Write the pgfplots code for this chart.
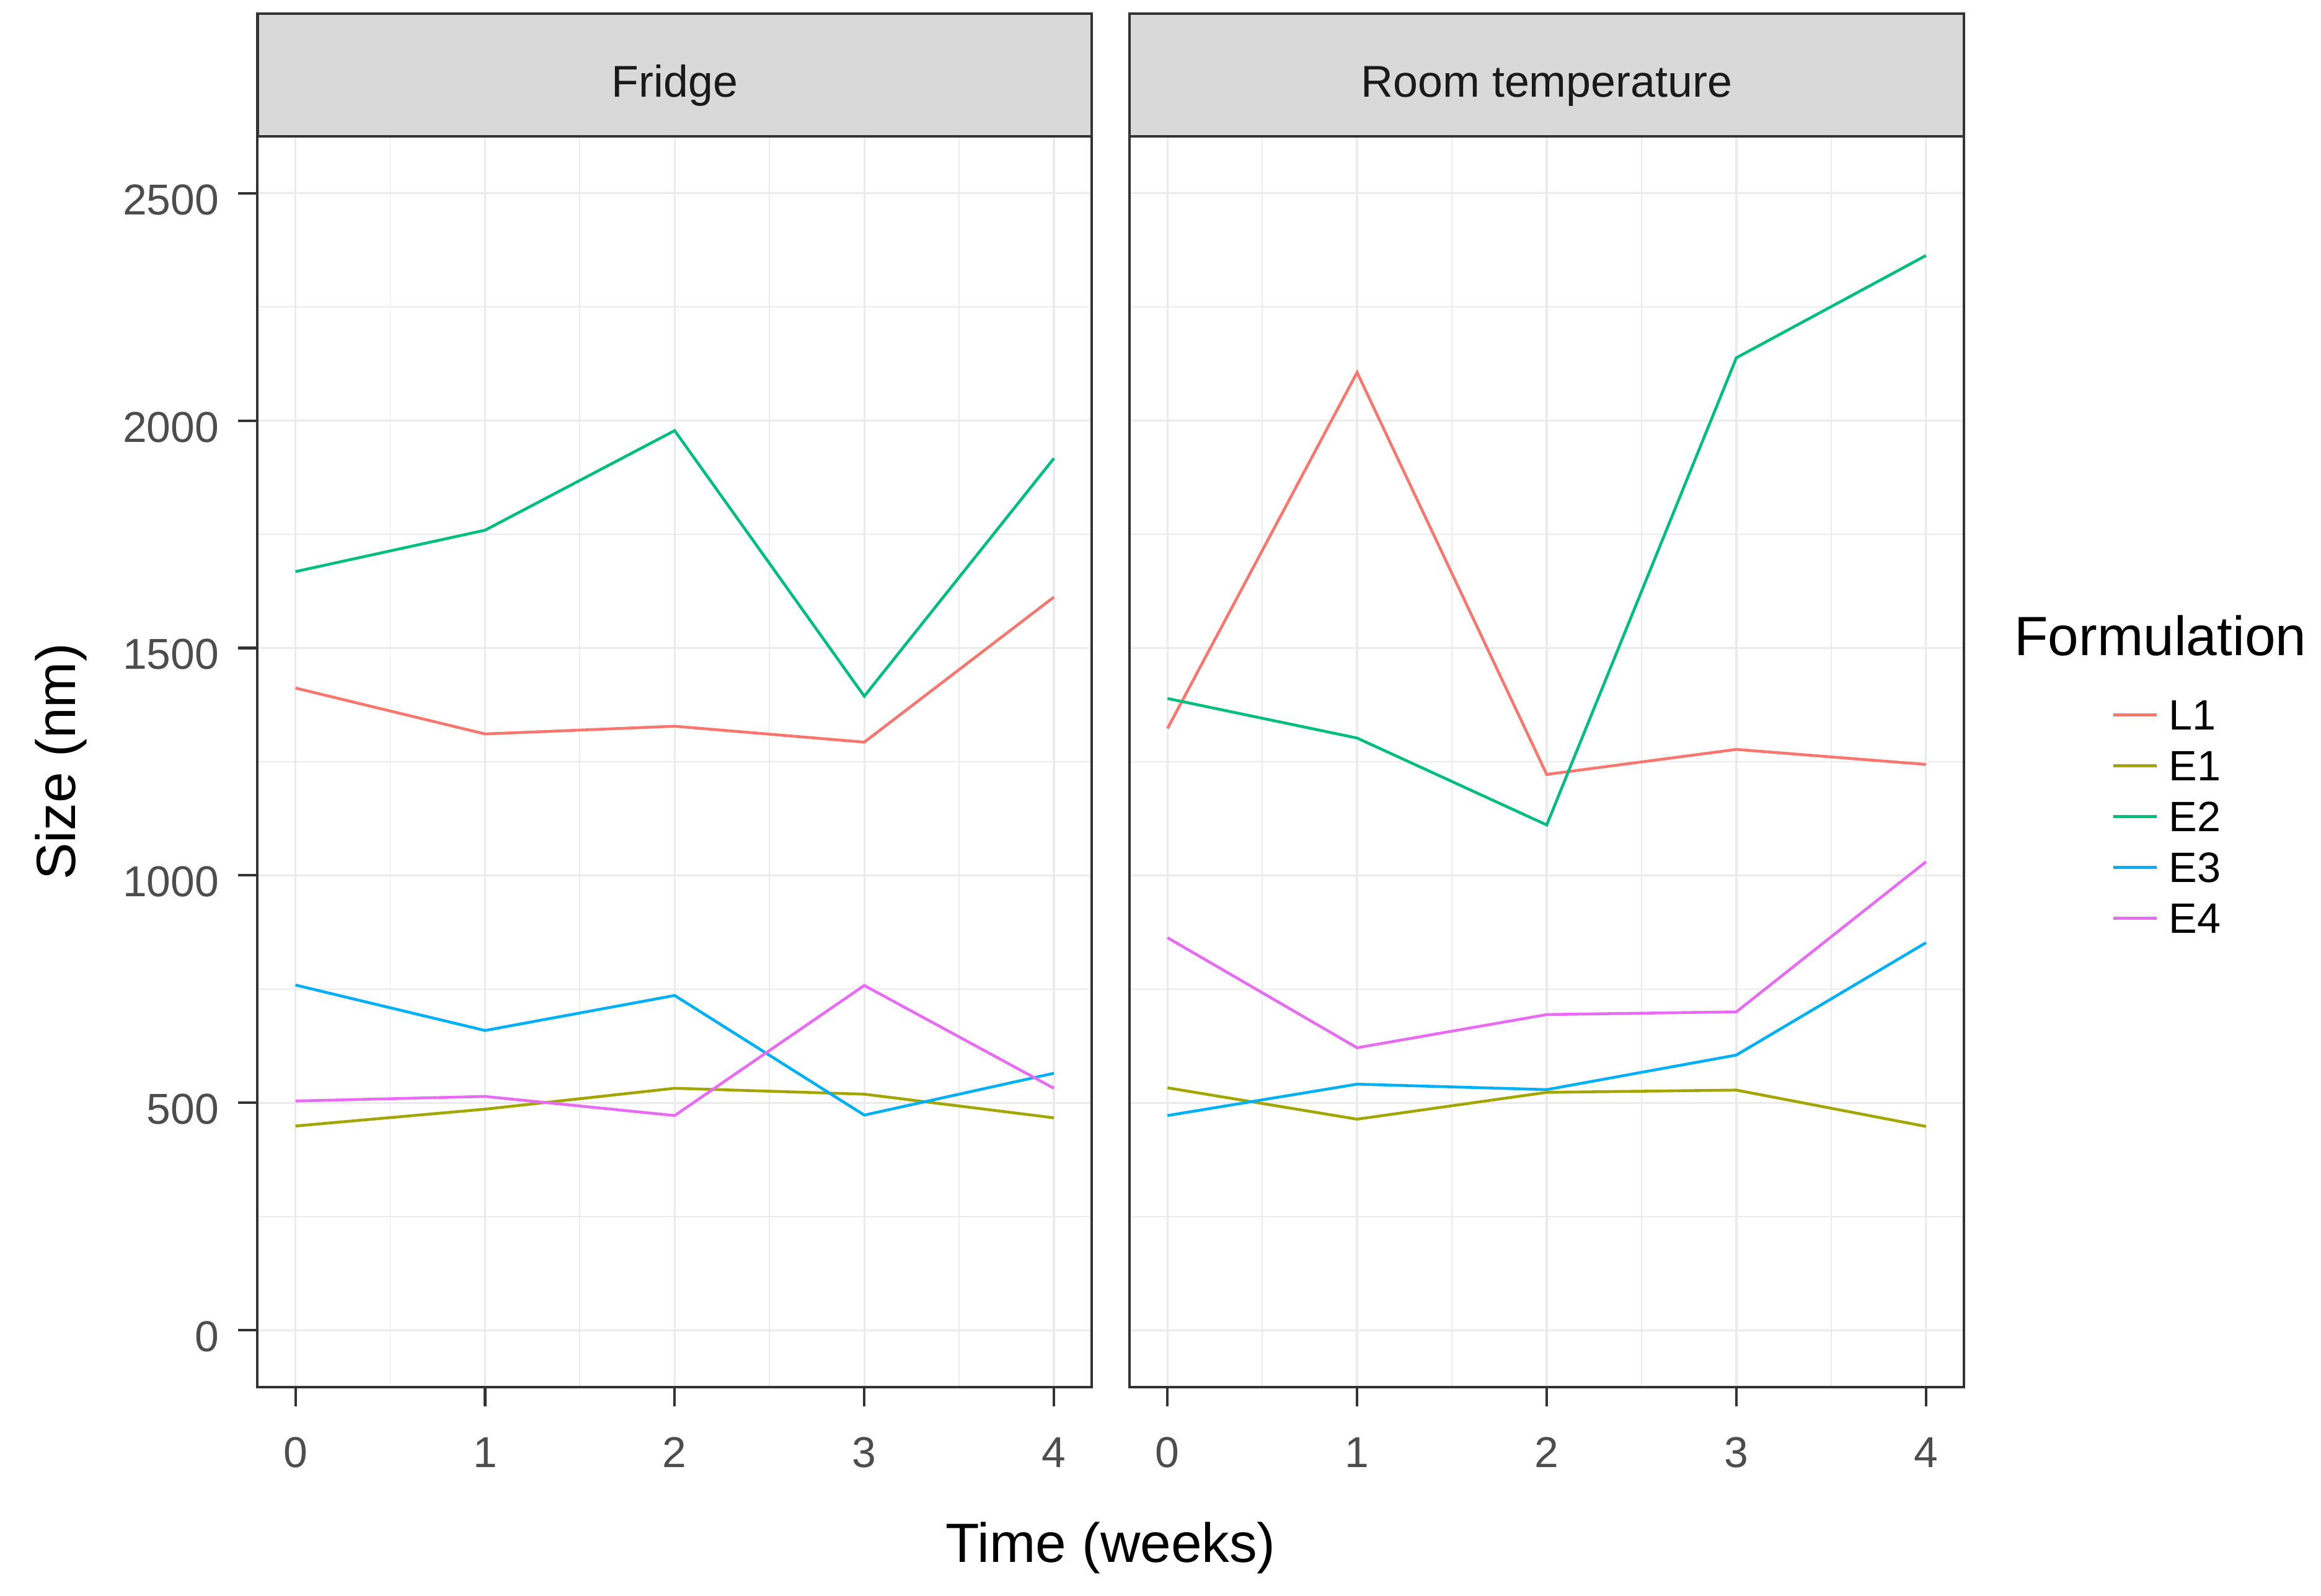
\documentclass[border=0pt]{standalone}
\usepackage{pgfplots}
\pgfplotsset{compat=1.18}
\usepackage{fontspec}
\setmainfont{Liberation Sans}
\definecolor{cL1}{HTML}{F8766D}
\definecolor{cE1}{HTML}{A3A500}
\definecolor{cE2}{HTML}{00BF7D}
\definecolor{cE3}{HTML}{00B0F6}
\definecolor{cE4}{HTML}{E76BF3}
\definecolor{grey20}{HTML}{333333}
\definecolor{grey30}{HTML}{4D4D4D}
\definecolor{grey10}{HTML}{1A1A1A}
\definecolor{grey85}{HTML}{D9D9D9}
\definecolor{grey92}{HTML}{EBEBEB}
\pgfplotsset{
 panel/.style={
  scale only axis, width=323bp, height=484.3bp,
  xmin=-0.2, xmax=4.2, ymin=-125, ymax=2625,
  xtick={0,1,2,3,4}, ytick={0,500,...,2500},
  minor xtick={0.5,1.5,2.5,3.5}, minor ytick={250,750,...,2250},
  grid=both,
  major grid style={grey92, line width=0.8bp},
  minor grid style={grey92, line width=0.45bp},
  axis line style={grey20, line width=1bp},
  tick align=outside, tick pos=left,
  major tick length=7.5bp, minor tick length=0pt,
  tick style={grey20, line width=1bp},
  every axis plot/.append style={line width=1.1bp, mark=none},
  /pgf/number format/assume math mode=true,
  /pgf/number format/1000 sep={},
  ticklabel style={font=\fontsize{16.8}{16.8}\selectfont, text=grey30, inner sep=0pt},
  xticklabel style={anchor=base, yshift=-23.7bp},
  yticklabel style={anchor=east, xshift=-7.2bp, yshift=-2.5bp},
 }
}
\begin{document}
\begin{tikzpicture}
\path[use as bounding box] (0,0) rectangle (898.56bp,618bp);
\begin{axis}[panel, at={(99.7bp,80.9bp)}, anchor=south west]
\addplot[cL1] coordinates {(0,1412) (1,1311) (2,1328) (3,1293) (4,1612)};
\addplot[cE1] coordinates {(0,449) (1,486) (2,532) (3,519) (4,467)};
\addplot[cE2] coordinates {(0,1668) (1,1759) (2,1978) (3,1394) (4,1917)};
\addplot[cE3] coordinates {(0,759) (1,659) (2,736) (3,473) (4,565)};
\addplot[cE4] coordinates {(0,504) (1,514) (2,472) (3,758) (4,532)};
\end{axis}
\begin{axis}[panel, at={(437.3bp,80.9bp)}, anchor=south west,
  yticklabels={}, ytick style={draw=none},
  legend style={at={(1.1777,0.5494)}, anchor=north west, draw=none, fill=none,
    inner sep=0pt, outer sep=0pt, row sep=8.1bp, column sep=4.3bp,
    nodes={inner sep=0pt, text height=11.6bp, text depth=0pt, font=\fontsize{16.5}{16.5}\selectfont}},
  legend cell align=left,
  legend image code/.code={\draw[#1, line width=1.1bp] (0bp,0bp) -- (16.6bp,0bp);}]
\addplot[cL1] coordinates {(0,1323) (1,2106) (2,1222) (3,1277) (4,1244)};
\addlegendentry{L1}
\addplot[cE1] coordinates {(0,533) (1,464) (2,523) (3,528) (4,448)};
\addlegendentry{E1}
\addplot[cE2] coordinates {(0,1389) (1,1302) (2,1111) (3,2138) (4,2363)};
\addlegendentry{E2}
\addplot[cE3] coordinates {(0,472) (1,541) (2,529) (3,605) (4,852)};
\addlegendentry{E3}
\addplot[cE4] coordinates {(0,863) (1,621) (2,694) (3,700) (4,1030)};
\addlegendentry{E4}
\end{axis}
\draw[fill=grey85, draw=grey20, line width=1bp] (99.7bp,565.2bp) rectangle (422.7bp,612.7bp);
\draw[fill=grey85, draw=grey20, line width=1bp] (437.3bp,565.2bp) rectangle (760.3bp,612.7bp);
\node[anchor=base, font=\fontsize{17.3}{17.3}\selectfont, text=grey10, inner sep=0pt] at (261.2bp,580.4bp) {Fridge};
\node[anchor=base, font=\fontsize{17.3}{17.3}\selectfont, text=grey10, inner sep=0pt] at (598.8bp,580.4bp) {Room temperature};
\node[anchor=base, font=\fontsize{21.5}{21.5}\selectfont, inner sep=0pt] at (430bp,13bp) {Time (weeks)};
\node[anchor=base, rotate=90, font=\fontsize{21.5}{21.5}\selectfont, inner sep=0pt] at (29.2bp,323.05bp) {Size (nm)};
\node[anchor=base west, font=\fontsize{21.5}{21.5}\selectfont, inner sep=0pt] at (779.6bp,364.1bp) {Formulation};
\end{tikzpicture}
\end{document}
